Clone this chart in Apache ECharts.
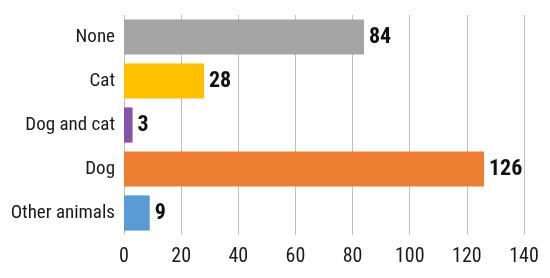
<!DOCTYPE html>
<html>
<head>
<meta charset="utf-8">
<script src="https://cdn.jsdelivr.net/npm/echarts@6/dist/echarts.min.js"></script>
<style>
  html, body { margin: 0; padding: 0; background: #fff; }
  #chart { width: 550px; height: 278px; }
</style>
</head>
<body>
<div id="chart"></div>
<script>
// categories, top to bottom as drawn
var categories = ['None', 'Cat', 'Dog and cat', 'Dog', 'Other animals'];
var counts = [84, 28, 3, 126, 9];
var barColors = ['#a5a5a5', '#ffc000', '#8554a6', '#ed7d31', '#5b9bd5'];
var xTicks = [0, 20, 40, 60, 80, 100, 120, 140];

var font = '"Liberation Sans Narrow", "Roboto Condensed", "DejaVu Sans Condensed", "Liberation Sans", sans-serif';

var myChart = echarts.init(document.getElementById('chart'));

var option = {
  animation: false,
  grid: { left: 124, right: 26, top: 15, bottom: 43 },
  xAxis: {
    type: 'value',
    min: xTicks[0],
    max: xTicks[xTicks.length - 1],
    interval: 20,
    axisLine: { show: false },
    axisTick: { show: false },
    axisLabel: { color: '#1a1a1a', fontSize: 20, fontFamily: font, margin: 12 },
    splitLine: { show: true, lineStyle: { color: '#bfbfbf', width: 1 } }
  },
  yAxis: {
    type: 'category',
    inverse: true,
    data: categories,
    axisLine: { show: false },
    axisTick: { show: false },
    axisLabel: { color: '#1a1a1a', fontSize: 19, fontFamily: font, margin: 9 }
  },
  series: [{
    type: 'bar',
    barCategoryGap: '20%',
    data: counts.map(function (v, i) {
      return { value: v, itemStyle: { color: barColors[i] } };
    }),
    label: {
      show: true,
      position: 'right',
      distance: 5,
      color: '#111',
      fontWeight: 'bold',
      fontSize: 22,
      fontFamily: font
    }
  }]
};

myChart.setOption(option);
</script>
</body>
</html>
